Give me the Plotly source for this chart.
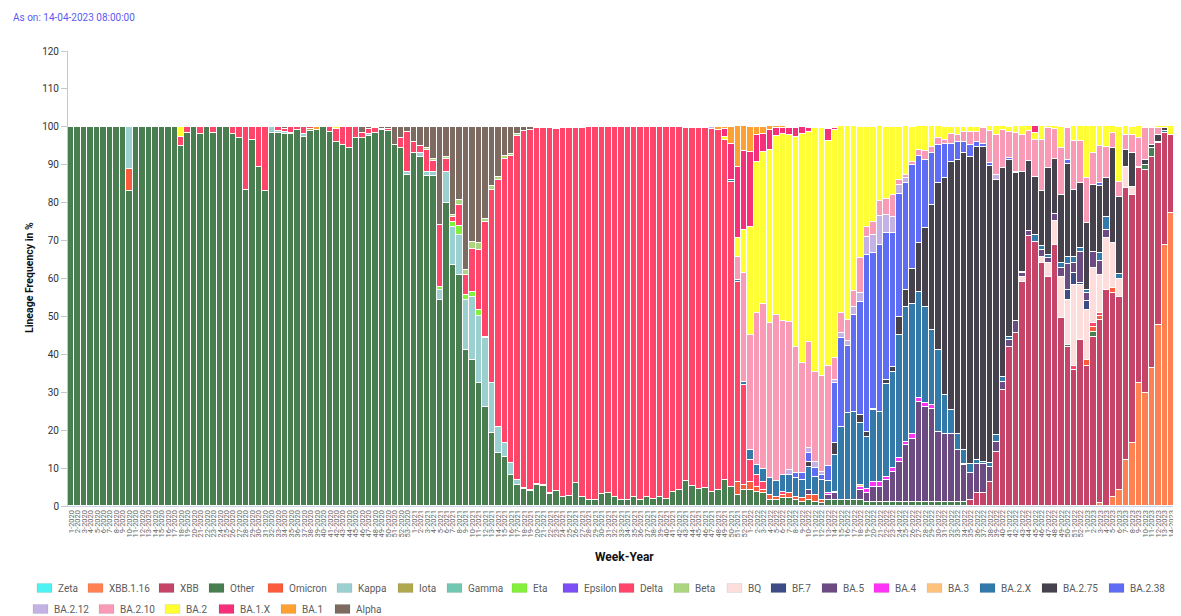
import plotly.graph_objects as go

# ---------------- categories ----------------
YEARS = [2020, 2021, 2022, 2023]
WEEKS_IN_YEAR = [53, 52, 52, 15]
WEEKS = [f"{w}-{y}" for y, n in zip(YEARS, WEEKS_IN_YEAR) for w in range(1, n + 1)]
N = len(WEEKS)

# ---------------- series values (% per week, keyed by week index) ----------------
ZETA = {}
XBB_1_16 = {159: 0.7, 161: 2.5, 162: 4.2, 163: 12.1, 164: 16.5, 165: 32.4, 166: 29.7, 167: 36.3,
            168: 47.8, 169: 68.9, 170: 77.2, 171: 58.8}
XBB = {139: 1.6, 140: 3.3, 141: 3.3, 142: 6.4, 143: 14.3, 144: 30.6, 145: 42, 146: 45.6, 147: 59.2,
       148: 71.1, 149: 69.7, 150: 64, 151: 60.5, 152: 68.9, 153: 49.5, 154: 42, 155: 35.9, 156: 43.8,
       157: 36.8, 158: 44.7, 159: 48.4, 160: 57, 161: 53.6, 162: 51, 163: 71.7, 164: 65.5, 165: 56.7,
       166: 58.9, 167: 55.8, 168: 47.9, 169: 29.5, 170: 20.7, 171: 26.8}
OTHER = {0: 100, 1: 100, 2: 100, 3: 100, 4: 100, 5: 100, 6: 100, 7: 100, 8: 100, 9: 83, 10: 100,
         11: 100, 12: 100, 13: 100, 14: 100, 15: 100, 16: 100, 17: 95, 18: 98.5, 19: 100, 20: 98,
         21: 100, 22: 98.5, 23: 100, 24: 100, 25: 98, 26: 97, 27: 83.4, 28: 96.5, 29: 89.5, 30: 83,
         31: 98.5, 32: 98.3, 33: 98.2, 34: 98.2, 35: 99.2, 36: 97.2, 37: 99, 38: 99.2, 39: 100,
         40: 98.7, 41: 96, 42: 95.2, 43: 94.5, 44: 97, 45: 97, 46: 97.5, 47: 98.3, 48: 99.2, 49: 99,
         50: 95.2, 51: 94.4, 52: 87.2, 53: 93, 54: 92, 55: 87, 56: 87, 57: 54.3, 58: 80, 59: 63.6,
         60: 61, 61: 41.2, 62: 38.5, 63: 32.4, 64: 26.2, 65: 19.2, 66: 13.9, 67: 13, 68: 8.2, 69: 5.5,
         70: 4.4, 71: 3.9, 72: 5.5, 73: 5.3, 74: 3.2, 75: 4, 76: 2.3, 77: 2.7, 78: 6, 79: 2.3, 80: 1.7,
         81: 1.5, 82: 3.2, 83: 3.4, 84: 2.3, 85: 1.7, 86: 1.5, 87: 2.5, 88: 1.7, 89: 2.5, 90: 1.9,
         91: 2.5, 92: 1.9, 93: 3.6, 94: 4.2, 95: 6.6, 96: 5.3, 97: 4.4, 98: 4.7, 99: 3.8, 100: 4.2,
         101: 6.9, 102: 5.1, 103: 2.9, 104: 4.2, 105: 4.2, 106: 3.8, 107: 3.3, 108: 1.6, 109: 1.6,
         110: 2, 111: 2, 112: 1.6, 113: 1.1, 114: 1.6, 115: 1.1, 116: 0.7, 117: 1.6, 118: 1.6,
         119: 1.6, 120: 1.6, 121: 1.6, 122: 1.6, 123: 1.1, 124: 1.1, 125: 1.1, 126: 1.1, 127: 1.1,
         128: 1.1, 129: 1.1, 130: 1.1, 131: 1.1, 132: 1.1, 133: 1.1, 134: 1.1, 135: 1.1, 136: 1.1,
         137: 1.1, 138: 1.1, 154: 0.4, 158: 1.3, 166: 1.3, 167: 2.2, 168: 0.4}
OMICRON = {9: 5.8, 103: 3.5, 104: 1.3, 105: 2, 106: 1.3, 107: 0.8, 108: 1.3, 109: 0.9, 110: 0.8,
           111: 1.3, 112: 0.9, 113: 0.9, 114: 1.3, 115: 1.8, 116: 0.9, 157: 1.8, 158: 1.3, 159: 0.9,
           161: 1.3}
KAPPA = {9: 11.2, 31: 1.5, 32: 0.5, 33: 0.5, 34: 0.3, 36: 0.8, 46: 0.5, 52: 0.9, 54: 1, 55: 1, 56: 1,
         57: 2.8, 58: 8, 59: 10.1, 60: 10.6, 61: 13.2, 62: 16.7, 63: 17.6, 64: 18, 65: 13.2, 66: 7,
         67: 3.5, 68: 3.1, 69: 1.3, 70: 0.4, 71: 0.3, 72: 0.4, 73: 0.3, 74: 0.3}
IOTA = {37: 0.5}
GAMMA = {}
ETA = {57: 0.7, 59: 1.3, 60: 2.2, 61: 1.3, 62: 1.3, 63: 1.8, 64: 0.4}
EPSILON = {}
DELTA = {17: 2.4, 18: 1.5, 20: 2, 22: 1.5, 25: 2, 26: 3, 27: 16.6, 28: 3.5, 29: 10.5, 30: 17,
         32: 1.2, 33: 0.8, 34: 1.5, 35: 0.8, 36: 2, 37: 0.5, 40: 1.3, 41: 3.3, 42: 4.8, 43: 5.5,
         44: 3, 45: 1.5, 46: 1.5, 47: 1.3, 49: 0.5, 51: 2.6, 52: 10.6, 53: 3, 54: 2, 55: 6, 56: 3,
         57: 16.3, 58: 3.5, 59: 1.3, 60: 5.7, 61: 5.3, 62: 11.4, 63: 15.8, 64: 30.3, 65: 51,
         66: 65.1, 67: 75, 68: 81, 69: 90.7, 70: 94.2, 71: 95, 72: 93.8, 73: 94.2, 74: 96.3,
         75: 95.5, 76: 97.5, 77: 97.1, 78: 93.8, 79: 97.5, 80: 98.3, 81: 98.5, 82: 96.8, 83: 96.6,
         84: 97.7, 85: 98.3, 86: 98.5, 87: 97.5, 88: 98.3, 89: 97.5, 90: 98.1, 91: 97.5, 92: 98.1,
         93: 96.4, 94: 95.8, 95: 93, 96: 94.3, 97: 95.2, 98: 94.9, 99: 95.6, 100: 95, 101: 89.6,
         102: 80.4, 103: 52.8, 104: 26.4, 105: 6, 106: 3.1, 107: 2.2, 110: 1, 155: 0.9, 158: 0.9,
         159: 0.9}
BETA = {48: 0.3, 55: 0.5, 56: 0.5, 58: 0.5, 59: 0.5, 60: 1.3, 61: 1.3, 62: 1.8, 63: 1.8, 64: 0.9,
        65: 0.9, 66: 0.9, 67: 0.7, 68: 0.5, 69: 0.7, 75: 0.3, 76: 0.2, 77: 0.2, 78: 0.2, 79: 0.2}
BQ = {147: 1.3, 150: 1.8, 151: 3.5, 152: 6.2, 153: 11, 154: 11.9, 155: 21.5, 156: 14.5, 157: 13.2,
      158: 14.5, 159: 10.1, 160: 13.6, 161: 11.9, 162: 4.8, 163: 5.7, 164: 2.2}
BF_7 = {154: 2.6, 155: 3.1, 156: 0.4, 157: 2.2}
BA_5 = {114: 1.3, 117: 1.3, 118: 1.8, 122: 2.6, 123: 2.2, 124: 4, 125: 4, 126: 5.7, 127: 7.9,
        128: 10.6, 129: 15, 130: 16.7, 131: 26.4, 132: 25.1, 133: 24.6, 134: 18.5, 135: 18,
        136: 18, 137: 13.6, 138: 9.7, 139: 7, 140: 7.9, 141: 7.9, 142: 4, 143: 2.6, 144: 2.2,
        145: 1.8, 146: 3.1, 147: 0.9, 148: 1.3, 150: 1.8, 151: 1.3, 152: 1.8, 153: 2.2, 154: 7,
        155: 2.6, 156: 8.4, 157: 2.2, 158: 4.4, 159: 3.5, 160: 2.2}
BA_4 = {117: 0.5, 118: 0.4, 122: 0.9, 123: 1.3, 124: 1.3, 125: 1.3, 126: 0.9, 127: 0.9, 128: 0.9,
        129: 0.9, 130: 1.3, 131: 0.9, 132: 0.9, 133: 0.9, 138: 0.4}
BA_3 = {122: 0.4}
BA_2_X = {102: 0.4, 103: 0.4, 104: 0.9, 105: 2.6, 106: 2.6, 107: 3.5, 108: 4.4, 109: 4, 110: 4.4,
          111: 4.8, 112: 4.8, 113: 4.8, 114: 6.2, 115: 4.8, 116: 5.3, 117: 3.1, 118: 9.7, 119: 19.3,
          120: 22.9, 121: 23.3, 122: 16.3, 123: 13.6, 124: 18.9, 125: 18.5, 126: 24.6, 127: 25.5,
          128: 32.5, 129: 35.6, 130: 34.3, 131: 28.1, 132: 25.5, 133: 19.8, 134: 21.5, 135: 10.1,
          136: 6.2, 137: 4.4, 138: 3.5, 139: 2.6, 140: 0.9, 141: 0.4, 142: 0.9, 143: 1.8, 144: 1.3,
          145: 0.9, 147: 0.4, 149: 1.8, 150: 0.9, 151: 0.9, 153: 1.3, 154: 1.8, 155: 1.8, 156: 0.9,
          157: 0.9, 159: 2.2, 160: 3.5, 162: 1.3, 169: 0.4}
BA_2_75 = {114: 1.3, 118: 3.1, 122: 2.2, 123: 1.3, 124: 0.4, 126: 0.9, 127: 1.3, 128: 4.8, 129: 4.4,
           130: 9.2, 131: 12.8, 132: 20.7, 133: 33, 134: 44, 135: 57.2, 136: 65.5, 137: 72.1,
           138: 78.3, 139: 80.9, 140: 82.7, 141: 83.1, 142: 78.3, 143: 67.3, 144: 55, 145: 46.6,
           146: 39.1, 147: 26.4, 148: 18.5, 149: 15.4, 150: 14.5, 151: 22.9, 152: 14.5, 153: 18,
           154: 24.6, 155: 17.6, 156: 17.2, 157: 17.6, 158: 17.6, 159: 17.6, 160: 10.1, 161: 25.1,
           162: 20.2, 163: 4.4, 164: 8.8, 165: 0.4, 166: 1.3, 167: 0.9, 168: 1.8, 169: 0.9}
BA_2_38 = {112: 1.3, 113: 1.8, 114: 2.2, 115: 2.2, 116: 1.3, 117: 4, 118: 15.8, 119: 23.3, 120: 17.6,
           121: 25.5, 122: 29.9, 123: 46.6, 124: 40.9, 125: 44, 126: 38.7, 127: 35.2, 128: 32.5,
           129: 28.1, 130: 27.3, 131: 22.9, 132: 18, 133: 13.6, 134: 10.1, 135: 9.2, 136: 4.8,
           137: 4.8, 138: 3.1, 139: 3.1, 140: 1.3, 141: 0.9, 142: 0.9, 145: 0.4, 146: 0.4, 154: 0.9,
           159: 0.9, 171: 3.1}
BA_2_12 = {95: 0.4, 96: 0.4, 97: 0.4, 98: 0.4, 99: 0.6, 111: 1.3, 114: 1.3, 115: 1.8, 116: 0.9,
           118: 0.9, 119: 1.3, 120: 1.3, 121: 2.2, 122: 2.2, 123: 4.8, 124: 4.8, 125: 7.5, 126: 4.8,
           127: 4.4, 128: 2.2, 129: 1.3, 143: 1.3}
BA_2_10 = {103: 6.2, 104: 28.6, 105: 30.2, 106: 40, 107: 43.5, 108: 40.9, 109: 44, 110: 40.5,
           111: 39.1, 112: 33.4, 113: 29, 114: 28.1, 115: 23.7, 116: 25.1, 117: 26.4, 118: 5.7,
           119: 5.3, 120: 5.7, 121: 4, 122: 9.2, 123: 2.6, 124: 3.5, 125: 4, 126: 4.4, 127: 5.7,
           128: 1.3, 129: 0.9, 130: 0.9, 131: 1.8, 132: 2.2, 133: 1.8, 134: 1.8, 135: 0.9, 136: 2.6,
           137: 1.8, 138: 2.6, 139: 3.5, 140: 2.6, 141: 4, 142: 8.4, 143: 10.6, 144: 10.1, 145: 7,
           146: 10.1, 147: 9.7, 148: 7.9, 149: 9.7, 150: 13.6, 151: 10.6, 152: 7.9, 153: 12.3,
           154: 8.4, 155: 12.8, 156: 11, 157: 11.9, 158: 8.4, 159: 9.7, 160: 8.4, 161: 4, 162: 4,
           163: 4, 164: 4.8, 165: 7.5, 166: 8.4, 167: 4.4, 168: 1.8}
BA_2 = {17: 2.6, 41: 0.7, 101: 0.9, 103: 4.8, 104: 11.4, 105: 28.6, 106: 40, 107: 40, 108: 45.7,
        109: 47.1, 110: 49.3, 111: 49.3, 112: 55.4, 113: 60.4, 114: 55.4, 115: 64.2, 116: 65.5,
        117: 59.4, 118: 60.2, 119: 49.3, 120: 51, 121: 43.5, 122: 34.7, 123: 26.4, 124: 25.1,
        125: 19.8, 126: 18.9, 127: 18, 128: 14.1, 129: 12.8, 130: 9.2, 131: 6.2, 132: 6.6, 133: 5.3,
        134: 3.1, 135: 3.5, 136: 1.8, 137: 2.2, 138: 1.3, 139: 1.3, 140: 1.3, 141: 0.4, 142: 1.3,
        143: 2.2, 144: 0.9, 145: 1.3, 146: 1.8, 147: 2.2, 148: 1.3, 149: 1.8, 150: 3.5, 151: 0.4,
        152: 0.9, 153: 5.7, 154: 0.4, 155: 4, 156: 4, 157: 13.6, 158: 7, 159: 5.3, 160: 5.3,
        161: 1.8, 162: 14.5, 163: 2.2, 164: 2.2, 165: 3.1, 166: 0.4, 167: 0.4, 168: 0.4, 169: 0.4,
        170: 2.2, 171: 11.4}
BA_1_X = {101: 1.9, 102: 9.7, 103: 18.9, 104: 20.7, 105: 19.8, 106: 7, 107: 4.8, 108: 5.3, 109: 2.2,
          110: 1.8, 111: 2, 112: 2.2, 113: 2, 114: 0.9, 115: 0.4, 117: 3.1, 118: 0.4, 149: 1.8}
BA_1 = {38: 0.8, 100: 0.8, 101: 0.7, 102: 4.4, 103: 10.6, 104: 6.6, 105: 6.6, 106: 2.2, 107: 1.8,
        108: 0.9, 109: 0.4, 110: 0.4}
ALPHA = {33: 0.5, 45: 1.5, 46: 0.5, 47: 0.4, 48: 0.5, 49: 0.5, 50: 4.8, 51: 3, 52: 1.3, 53: 4,
         54: 5, 55: 5.5, 56: 8.5, 57: 25.9, 58: 8, 59: 23.2, 60: 19.2, 61: 37.7, 62: 30.3, 63: 30.6,
         64: 24.2, 65: 15.7, 66: 13.1, 67: 7.8, 68: 7.2, 69: 1.8, 70: 1, 71: 0.8, 72: 0.3, 73: 0.2,
         74: 0.2, 75: 0.2}

# stacking order: bottom -> top (also legend order)
SERIES = [
    ("Zeta", ZETA), ("XBB.1.16", XBB_1_16), ("XBB", XBB), ("Other", OTHER), ("Omicron", OMICRON),
    ("Kappa", KAPPA), ("Iota", IOTA), ("Gamma", GAMMA), ("Eta", ETA), ("Epsilon", EPSILON),
    ("Delta", DELTA), ("Beta", BETA), ("BQ", BQ), ("BF.7", BF_7), ("BA.5", BA_5), ("BA.4", BA_4),
    ("BA.3", BA_3), ("BA.2.X", BA_2_X), ("BA.2.75", BA_2_75), ("BA.2.38", BA_2_38),
    ("BA.2.12", BA_2_12), ("BA.2.10", BA_2_10), ("BA.2", BA_2), ("BA.1.X", BA_1_X), ("BA.1", BA_1),
    ("Alpha", ALPHA),
]

# ---------------- styles ----------------
COLORS = {
    "Zeta": "#4DF2F2", "XBB.1.16": "#FF8152", "XBB": "#C64468", "Other": "#497E50",
    "Omicron": "#FA5B3D", "Kappa": "#9CCFCF", "Iota": "#B0A84F", "Gamma": "#72C7B2",
    "Eta": "#82F03C", "Epsilon": "#7C4EF5", "Delta": "#FF4569", "Beta": "#ABD57E",
    "BQ": "#FDDEDD", "BF.7": "#3E4C86", "BA.5": "#6C4B82", "BA.4": "#FF33F5", "BA.3": "#FFC27A",
    "BA.2.X": "#3379AA", "BA.2.75": "#45424E", "BA.2.38": "#5F6DF5", "BA.2.12": "#C3B2E3",
    "BA.2.10": "#F99BB7", "BA.2": "#FFFF33", "BA.1.X": "#F52F7A", "BA.1": "#FFA033",
    "Alpha": "#7D6B61",
}
# legend layout (window-pixel positions of swatches)
LEGEND_ROW1 = [("Zeta", 37), ("XBB.1.16", 88), ("XBB", 159), ("Other", 209), ("Omicron", 268),
               ("Kappa", 337), ("Iota", 398), ("Gamma", 447), ("Eta", 512), ("Epsilon", 563),
               ("Delta", 619), ("Beta", 674), ("BQ", 727), ("BF.7", 771), ("BA.5", 822),
               ("BA.4", 874), ("BA.3", 927), ("BA.2.X", 980), ("BA.2.75", 1042), ("BA.2.38", 1109)]
LEGEND_ROW2 = [("BA.2.12", 33), ("BA.2.10", 99), ("BA.2", 165), ("BA.1.X", 219), ("BA.1", 281),
               ("Alpha", 335)]

# the page body adds an 8px margin, so the figure is 8px smaller and shifted
OFF = 8
W, H = 1181 - OFF, 616 - OFF
ML, MR, MT, MB = 68 - OFF, 0, 51 - OFF, 110
PW, PH = W - ML - MR, H - MT - MB


def px_x(px):
    return (px - OFF - ML) / PW


def px_y(py):
    return (H - MB - (py - OFF)) / PH


fig = go.Figure()
for name, data in SERIES:
    fig.add_trace(go.Bar(
        x=WEEKS, y=[data.get(i, 0) for i in range(N)], name=name,
        marker=dict(color=COLORS[name], line=dict(color="white", width=1)),
        showlegend=False,
        hovertemplate="%{x}<br>" + name + ": %{y}%<extra></extra>",
    ))

shapes, annotations = [], []
for row, py in ((LEGEND_ROW1, 588), (LEGEND_ROW2, 609)):
    for name, px in row:
        shapes.append(dict(type="rect", xref="paper", yref="paper",
                           x0=px_x(px), x1=px_x(px + 15), y0=px_y(py + 4.5), y1=px_y(py - 4.5),
                           fillcolor=COLORS[name], line=dict(width=0.6, color="rgba(0,0,0,0.12)")))
        annotations.append(dict(xref="paper", yref="paper", x=px_x(px + 19), y=px_y(py),
                                text=name, showarrow=False, xanchor="left", yanchor="middle",
                                font=dict(size=10, color="#5c5c5c")))

annotations += [
    dict(xref="paper", yref="paper", x=px_x(11), y=px_y(17), text="As on: 14-04-2023 08:00:00",
         showarrow=False, xanchor="left", yanchor="middle", font=dict(size=10, color="#5b5bf0")),
    dict(xref="paper", yref="paper", x=px_x(29), y=px_y(278), text="<b>Lineage Frequency in %</b>",
         showarrow=False, textangle=-90, xanchor="center", yanchor="middle",
         font=dict(size=10.5, color="#111")),
    dict(xref="paper", yref="paper", x=px_x(624), y=px_y(557), text="<b>Week-Year</b>",
         showarrow=False, xanchor="center", yanchor="middle", font=dict(size=12, color="#111")),
]

fig.update_layout(
    width=W, height=H,
    margin=dict(l=ML, r=MR, t=MT, b=MB, pad=0),
    barmode="stack", bargap=0,
    plot_bgcolor="white", paper_bgcolor="white",
    font=dict(family="Roboto, sans-serif", size=10, color="#333"),
    showlegend=False,
    shapes=shapes, annotations=annotations,
    xaxis=dict(type="category", categoryorder="array", categoryarray=WEEKS,
               tickmode="array", tickvals=WEEKS, ticktext=WEEKS, tickangle=-90,
               tickfont=dict(size=7.5, color="#666"), showline=True, linecolor="#ccd6eb",
               showgrid=False, ticks="", range=[-0.5, N - 0.5], fixedrange=True),
    yaxis=dict(range=[0, 120], tick0=0, dtick=10, showline=True, linecolor="#c8c8c8",
               ticks="outside", ticklen=6, tickcolor="#c8c8c8", showgrid=False, zeroline=False,
               tickfont=dict(size=10, color="#333")),
)

fig.write_html("out.html")
